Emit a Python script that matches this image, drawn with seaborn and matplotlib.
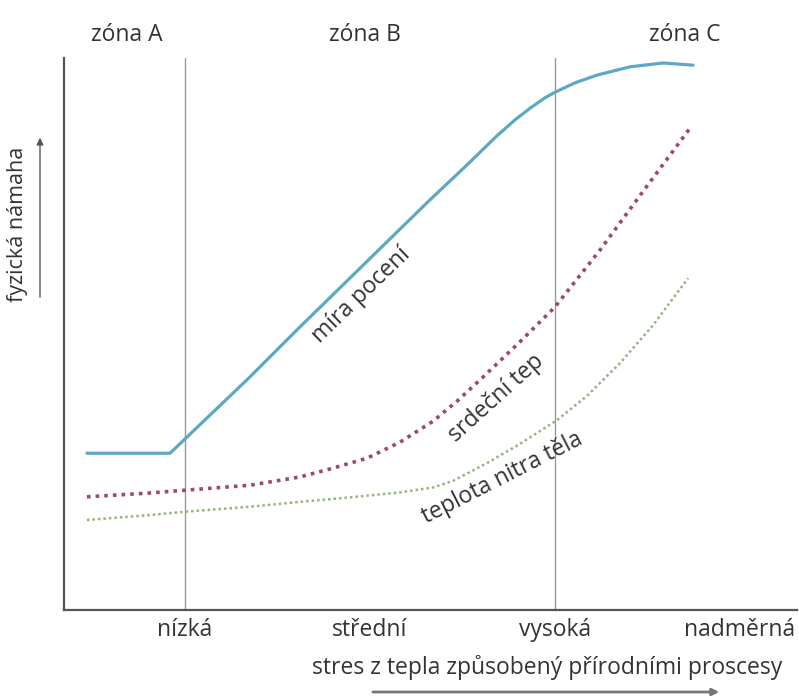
import matplotlib
matplotlib.use("Agg")
import matplotlib.pyplot as plt
import pandas as pd
import seaborn as sns

# stress levels on x (1 = nízká ... 4 = nadměrná), strain on y (0-100)
tick_pos = [1, 2, 3, 4]
tick_labels = ['nízká', 'střední', 'vysoká', 'nadměrná']
zone_labels = ['zóna A', 'zóna B', 'zóna C']

sweat_x = [0.47, 0.919, 1.335, 1.622, 2.324, 2.514, 2.686, 2.784, 2.865, 2.946,
           3.00, 3.108, 3.227, 3.405, 3.584, 3.746]
sweat_y = [28.4, 28.4, 41.7, 51.3, 74.3, 80.3, 85.9, 88.8, 90.9, 92.8,
           93.8, 95.5, 96.9, 98.4, 99.1, 98.7]

heart_x = [0.47, 0.811, 1.00, 1.351, 1.622, 1.80, 1.984, 2.162, 2.341, 2.476, 2.611,
           2.811, 3.00, 3.243, 3.486, 3.73]
heart_y = [20.5, 21.2, 21.7, 22.6, 24.1, 25.7, 27.5, 30.4, 34.2, 38.0, 42.2,
           48.6, 54.9, 65.2, 76.3, 87.3]

core_x = [0.47, 0.811, 1.00, 1.351, 1.622, 1.892, 2.162, 2.341, 2.449, 2.632, 2.811,
          3.011, 3.173, 3.351, 3.53, 3.719]
core_y = [16.3, 17.2, 17.8, 18.7, 19.6, 20.4, 21.3, 22.2, 23.4, 26.6, 30.1,
          34.4, 38.8, 44.7, 51.6, 60.1]

sweat = pd.DataFrame({'x': sweat_x, 'y': sweat_y})
heart = pd.DataFrame({'x': heart_x, 'y': heart_y})
core = pd.DataFrame({'x': core_x, 'y': core_y})

sns.set_style('white')
plt.rcParams['font.family'] = ['Open Sans', 'DejaVu Sans']
FS = 16.5
TXT = '#333333'

fig = plt.figure(figsize=(7.99, 6.98), dpi=100)
ax = fig.add_axes([0.0801, 0.1261, 0.9174, 0.7908])

# zone borders
for xv in [1, 3]:
    ax.axvline(xv, color='#9a9a9a', lw=1.0, zorder=1)

sns.lineplot(data=sweat, x='x', y='y', ax=ax, color='#5fa8c2', lw=2.3, sort=False)
sns.lineplot(data=heart, x='x', y='y', ax=ax, color='#a04a62', lw=2.6, sort=False,
             linestyle=(0, (1.0, 1.4)))
sns.lineplot(data=core, x='x', y='y', ax=ax, color='#93b57f', lw=1.8, sort=False,
             linestyle=(0, (1.0, 1.2)))

ax.set_xlim(0.346, 4.308)
ax.set_ylim(0, 100)
ax.set_xticks(tick_pos)
ax.set_xticklabels(tick_labels, fontsize=FS, color=TXT)
ax.set_yticks([])
ax.tick_params(axis='x', length=0, pad=6)
ax.set_xlabel('')
ax.set_ylabel('')
sns.despine(ax=ax)
for s in ['left', 'bottom']:
    ax.spines[s].set_color('#555555')
    ax.spines[s].set_linewidth(1.6)

# curve labels
ax.text(1.951, 57.1, 'míra pocení', rotation=44, fontsize=FS, color=TXT,
        ha='center', va='center', rotation_mode='anchor')
ax.text(2.68, 38.4, 'srdeční tep', rotation=42, fontsize=FS, color=TXT,
        ha='center', va='center', rotation_mode='anchor')
ax.text(2.714, 23.9, 'teplota nitra těla', rotation=27, fontsize=FS, color=TXT,
        ha='center', va='center', rotation_mode='anchor')

# zone titles
for xz, lab in zip([127, 365, 685], zone_labels):
    fig.text(xz / 799, 1 - 35 / 698, lab, fontsize=FS, color=TXT,
             ha='center', va='center')

# axis titles with arrows
fig.text(18 / 799, 1 - 224 / 698, 'fyzická námaha', rotation=90, fontsize=15.5,
         color=TXT, ha='center', va='center')
fig.text(547 / 799, 1 - 668 / 698, 'stres z tepla způsobený přírodními proscesy',
         fontsize=FS, color=TXT, ha='center', va='center')

fig.patches.append(matplotlib.patches.FancyArrowPatch(
    (40 / 799, 1 - 300 / 698), (40 / 799, 1 - 135 / 698), transform=fig.transFigure,
    arrowstyle='-|>', mutation_scale=10, color='#555555', lw=1.0))
fig.patches.append(matplotlib.patches.FancyArrowPatch(
    (370 / 799, 1 - 692 / 698), (722 / 799, 1 - 692 / 698), transform=fig.transFigure,
    arrowstyle='-|>', mutation_scale=10, color='#777777', lw=2.0))

fig.savefig('out.png', dpi=100)
